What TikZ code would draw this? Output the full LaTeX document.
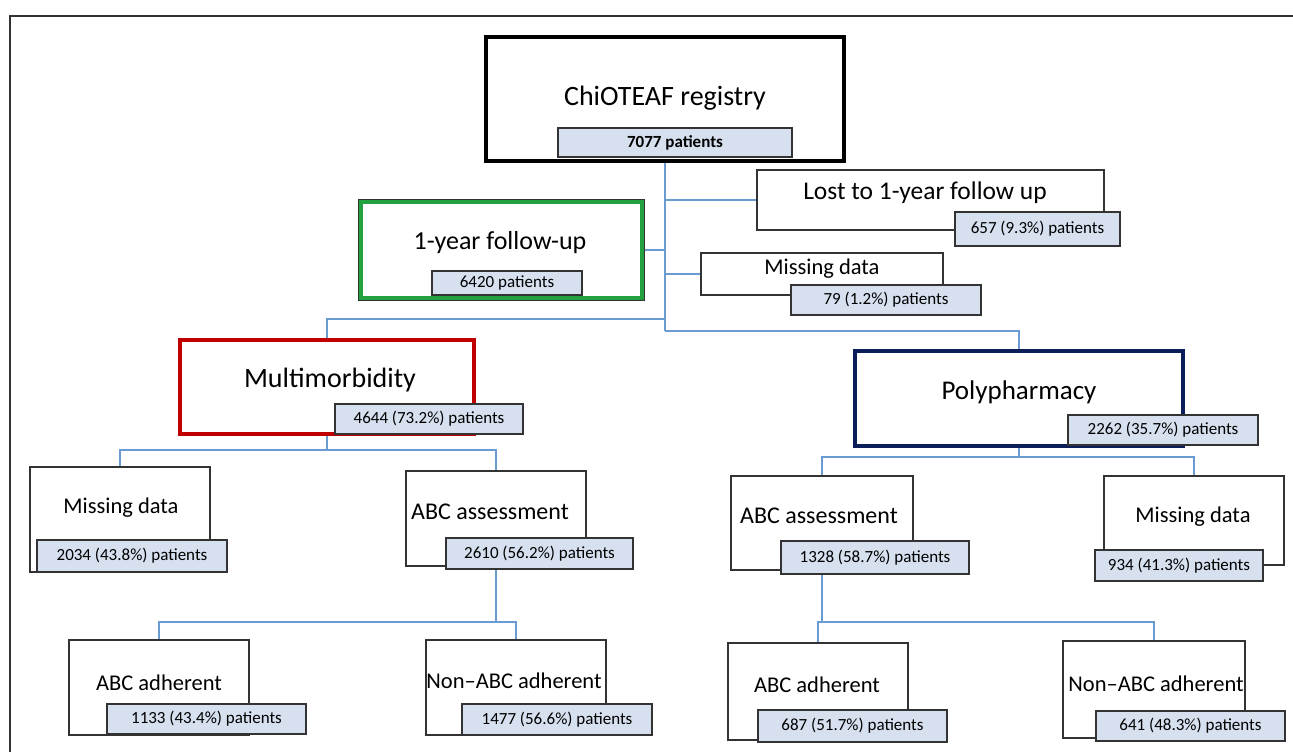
\documentclass[tikz,border=0pt]{standalone}
\usepackage{fontspec}
\setmainfont{Carlito}
\usetikzlibrary{backgrounds}
\definecolor{connc}{HTML}{6A9BD3}
\definecolor{lblc}{HTML}{D6E0EF}
\definecolor{grn}{HTML}{22A23F}
\definecolor{rd}{HTML}{C00000}
\definecolor{nvy}{HTML}{0C1E5A}
\definecolor{frm}{HTML}{333333}
\pgfdeclarehorizontalshading{bevel}{100bp}{color(0bp)=(lblc);color(2bp)=(white);color(5bp)=(lblc);color(95bp)=(lblc);color(98bp)=(white);color(100bp)=(lblc)}
\newcommand\boxat[7]{\node[#6, minimum width={(#4-#2)*1pt}, minimum height={(#5-#3)*1pt}] (#1) at ({(#2+#4)/2},{(#3+#5)/2}) {#7};}
\tikzset{
  plain/.style={draw=frm, line width=1.4pt, fill=white, inner sep=0pt},
  lab/.style={draw=frm, line width=1.4pt, shading=bevel, inner sep=0pt, font=\fontsize{17}{20}\selectfont},
  ttl/.style={inner sep=0pt, font=\fontsize{22.5}{26}\selectfont},
  conn/.style={draw=connc, line width=1.8pt},
  trunk/.style={draw=connc, line width=2.4pt},
}
\begin{document}
\begin{tikzpicture}[x=1pt,y=-1pt]
\useasboundingbox (0,0) rectangle (1293,752);

% main boxes
\boxat{reg}{486}{37}{844}{161}{plain, draw=black, line width=4.5pt}{}
\boxat{fu}{361}{202}{642}{298}{plain, draw=grn, line width=3.2pt, preaction={draw=black!80, line width=5.2pt}}{}
\boxat{lost}{757}{170}{1104}{230}{plain}{}
\boxat{mtop}{701}{253}{943}{295}{plain}{}
\boxat{mm}{180}{340}{474}{434}{plain, draw=rd, line width=3.8pt}{}
\boxat{pp}{855}{351}{1183}{446}{plain, draw=nvy, line width=3.4pt, preaction={draw=black, line width=4.6pt}}{}
\boxat{md1}{30}{467}{210}{572}{plain}{}
\boxat{abc1}{406}{471}{586}{566}{plain}{}
\boxat{abc2}{731}{476}{913}{570}{plain}{}
\boxat{md3}{1104}{476}{1284}{565}{plain}{}
\boxat{aa1}{69}{640}{249}{735}{plain}{}
\boxat{na1}{426}{640}{606}{735}{plain}{}
\boxat{aa2}{728}{643}{908}{740}{plain}{}
\boxat{na2}{1063}{641}{1245}{738}{plain}{}

% titles
\node[ttl, font=\fontsize{28}{32}\selectfont] (regT) at (665,98) {ChiOTEAF registry};
\node[ttl, font=\fontsize{26}{30}\selectfont] (fuT) at (500,243) {1-year follow-up};
\node[ttl, font=\fontsize{25.5}{30}\selectfont] (lostT) at (925,193) {Lost to 1-year follow up};
\node[ttl] (mtopT) at (822,269) {Missing data};
\node[ttl, font=\fontsize{28}{32}\selectfont] (mmT) at (330,380) {Multimorbidity};
\node[ttl, font=\fontsize{27}{31}\selectfont] (ppT) at (1019,392) {Polypharmacy};
\node[ttl] (md1T) at (121,508) {Missing data};
\node[ttl, font=\fontsize{24}{28}\selectfont] (abc1T) at (490,512) {ABC assessment};
\node[ttl, font=\fontsize{24}{28}\selectfont] (abc2T) at (819,516) {ABC assessment};
\node[ttl] (md3T) at (1193,517) {Missing data};
\node[ttl] (aa1T) at (159,683) {ABC adherent};
\node[ttl] (na1T) at (514,681) {Non–ABC adherent};
\node[ttl] (aa2T) at (817,685) {ABC adherent};
\node[ttl] (na2T) at (1156,684) {Non–ABC adherent};

% labels
\boxat{regL}{558}{128}{792}{157}{lab, font=\fontsize{17}{20}\selectfont\bfseries}{7077 patients}
\boxat{fuL}{432}{271}{582}{295}{lab}{6420 patients}
\boxat{lostL}{955}{212}{1120}{246}{lab}{657 (9.3\%) patients}
\boxat{mtopL}{791}{285}{981}{315}{lab}{79 (1.2\%) patients}
\boxat{mmL}{335}{404}{523}{434}{lab}{4644 (73.2\%) patients}
\boxat{ppL}{1068}{415}{1258}{445}{lab}{2262 (35.7\%) patients}
\boxat{md1L}{37}{540}{227}{572}{lab}{2034 (43.8\%) patients}
\boxat{abc1L}{446}{538}{633}{569}{lab}{2610 (56.2\%) patients}
\boxat{abc2L}{781}{541}{969}{574}{lab}{1328 (58.7\%) patients}
\boxat{md3L}{1095}{550}{1263}{581}{lab}{934 (41.3\%) patients}
\boxat{aa1L}{107}{704}{306}{734}{lab}{1133 (43.4\%) patients}
\boxat{na1L}{462}{704}{652}{735}{lab}{1477 (56.6\%) patients}
\boxat{aa2L}{758}{710}{947}{742}{lab}{687 (51.7\%) patients}
\boxat{na2L}{1096}{711}{1285}{741}{lab}{641 (48.3\%) patients}

% connectors
\coordinate (tend) at (665,331);
\coordinate (mmbar) at (665,319);
\coordinate (mmsplit) at (0,450);
\coordinate (ppsplit) at (0,457);
\coordinate (a1split) at (0,622);
\coordinate (a2split) at (0,622);
\begin{pgfonlayer}{background}
\fill[white] (0,0) rectangle (1293,752);
\begin{scope}
\clip (0,0) rectangle (1293,752);
\draw[frm, line width=2.5pt] (10,800) -- (10,16) -- (1320,16);
\end{scope}
\draw[trunk] (reg.south) -- (tend);
\draw[conn] (tend |- lost.west) -- (lost.west);
\draw[conn] (fu.east) -- (tend |- fu.east);
\draw[conn] (tend |- mtop.west) -- (mtop.west);
\draw[conn] (mmbar) -- (mm.north |- mmbar) -- (mm.north);
\draw[conn] (tend) -- (pp.north |- tend) -- (pp.north);
\draw[conn] (mm.south) -- (mm.south |- mmsplit);
\draw[conn] (md1.north) -- (md1.north |- mmsplit) -- (abc1.north |- mmsplit) -- (abc1.north);
\draw[conn] (pp.south) -- (pp.south |- ppsplit);
\draw[conn] (abc2.north) -- (abc2.north |- ppsplit) -- (md3.north |- ppsplit) -- (md3.north);
\draw[trunk] (abc1.south) -- (abc1.south |- a1split);
\draw[conn] (aa1.north) -- (aa1.north |- a1split) -- (na1.north |- a1split) -- (na1.north);
\draw[conn] (abc2.south) -- (abc2.south |- a2split) -- (aa2.north |- a2split);
\draw[conn] (aa2.north) -- (aa2.north |- a2split) -- (na2.north |- a2split) -- (na2.north);
\end{pgfonlayer}
\end{tikzpicture}
\end{document}
